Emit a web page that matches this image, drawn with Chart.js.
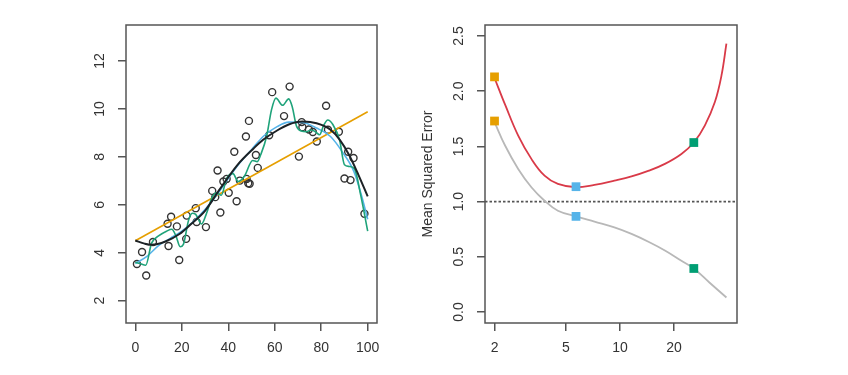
<!DOCTYPE html>
<html>
<head>
<meta charset="utf-8">
<script src="https://cdn.jsdelivr.net/npm/chart.js@4/dist/chart.umd.min.js"></script>
<style>
  body { margin: 0; background: #fff; }
  #wrap { position: relative; width: 848px; height: 375px; }
  canvas { position: absolute; top: 0; }
</style>
</head>
<body>
<div id="wrap">
  <canvas id="fitPlot" width="400" height="375" style="left:0"></canvas>
  <canvas id="msePlot" width="448" height="375" style="left:400px"></canvas>
</div>
<script>
// left panel: simulated observations
var obsX = [0.7, 2.9, 4.7, 7.6, 13.9, 15.4, 14.3, 17.9, 18.9, 22.1, 21.9, 26.0, 26.4, 30.4,
  33.1, 34.4, 35.4, 36.6, 37.9, 39.3, 40.2, 42.6, 43.6, 45.0, 47.6, 47.9, 48.9, 48.6, 49.2,
  51.9, 52.7, 57.6, 58.9, 64.0, 66.4, 70.4, 71.6, 71.9, 74.7, 76.4, 78.1, 82.1, 82.9, 87.6,
  90.0, 91.6, 92.6, 93.9, 98.6];
var obsY = [3.53, 4.03, 3.05, 4.45, 5.21, 5.5, 4.28, 5.10, 3.70, 5.55, 4.58, 5.86, 5.28, 5.07,
  6.58, 6.32, 7.43, 5.68, 6.97, 7.08, 6.5, 8.21, 6.15, 7.01, 8.85, 7.08, 9.50, 6.9, 6.88,
  8.08, 7.54, 8.90, 10.70, 9.70, 10.93, 8.01, 9.45, 9.24, 9.14, 9.04, 8.64, 10.13, 9.13, 9.05,
  7.10, 8.21, 7.03, 7.95, 5.63];

// true function (black)
var trueX = [0, 4, 7, 13, 19, 24, 30, 36, 44, 51, 55, 61, 66, 72, 78, 84, 88, 92, 96, 100];
var trueY = [4.51, 4.38, 4.33, 4.47, 4.78, 5.2, 5.75, 6.6, 7.67, 8.36, 8.71, 9.1, 9.35, 9.47,
  9.40, 9.13, 8.71, 8.08, 7.25, 6.35];

// linear fit (orange)
var linX = [0, 100];
var linY = [4.5, 9.88];

// smoothing spline, moderate flexibility (blue)
var blueX = [0, 5, 10, 15, 20, 25, 30, 35, 40, 45, 50, 55, 61, 66, 72, 78, 84, 89, 94, 97, 100];
var blueY = [3.55, 3.85, 4.3, 4.6, 4.9, 5.3, 5.8, 6.4, 7.1, 7.75, 8.3, 8.85, 9.26, 9.45, 9.43,
  9.2, 8.85, 8.22, 7.4, 6.5, 5.4];

// smoothing spline, high flexibility (green)
var greenX = [0, 2, 4.5, 7, 10, 13.5, 15.7, 17.5, 19.3, 20.7, 22.9, 24.5, 26, 28.5, 30.5, 33,
  35, 37, 39.3, 42, 44.3, 47, 50.5, 52.5, 54, 56.5, 58.6, 60.5, 63.4, 66, 67.5, 69.3, 71.4,
  73.6, 75.7, 77.5, 79.3, 81, 82.8, 85, 87.9, 90, 92, 94.3, 97.1, 100];
var greenY = [3.6, 3.55, 3.48, 4.4, 4.7, 4.9, 4.98, 4.7, 4.25, 4.35, 5.35, 5.65, 5.6, 5.2, 5.6,
  6.3, 6.5, 6.4, 7.1, 7.3, 6.97, 7.2, 7.85, 7.8, 8.1, 8.85, 9.96, 10.45, 10.15, 10.42, 10.1,
  9.3, 9.08, 9.05, 9.12, 9.05, 8.92, 9.3, 9.54, 9.35, 8.7, 7.67, 7.6, 7.5, 6.35, 4.9];

var leftXTicks = [0, 20, 40, 60, 80, 100];
var leftYTicks = [2, 4, 6, 8, 10, 12];

// right panel: MSE against flexibility
var testX = [2, 2.3, 2.71, 3.21, 3.8, 4.51, 5.69, 7.21, 9.31, 11.6, 14.5, 17.8, 22, 25.8, 29.7,
  33.8, 36.8, 39.2];
var testY = [2.12, 1.871, 1.598, 1.387, 1.235, 1.16, 1.13, 1.152, 1.19, 1.228, 1.28, 1.342,
  1.432, 1.535, 1.689, 1.902, 2.143, 2.431];
var trainX = [2, 2.29, 2.71, 3.21, 3.8, 4.51, 5.69, 7.21, 9.31, 11.6, 14.5, 17.8, 22, 25.8,
  31.5, 39.2];
var trainY = [1.72, 1.508, 1.296, 1.13, 1.008, 0.917, 0.866, 0.818, 0.766, 0.707, 0.634, 0.557,
  0.464, 0.394, 0.267, 0.131];
var markX = [2, 5.69, 25.8];
var markTest = [2.13, 1.135, 1.535];
var markTrain = [1.73, 0.866, 0.394];
var markColors = ["#E69F00", "#56B4E9", "#009E73"];
var irreducible = 1.0;

var rightXTicks = [2, 5, 10, 20];
var rightYTicks = [0, 0.5, 1, 1.5, 2, 2.5];

function pts(xs, ys) {
  return xs.map(function (x, i) { return { x: x, y: ys[i] }; });
}

var axisGray = "#555";
var tickFont = { family: "'Liberation Sans', Arial, sans-serif", size: 14 };

var boxPlugin = {
  id: "box",
  afterDraw: function (chart) {
    var a = chart.chartArea;
    var ctx = chart.ctx;
    ctx.save();
    ctx.strokeStyle = axisGray;
    ctx.lineWidth = 1.5;
    ctx.strokeRect(a.left, a.top, a.right - a.left, a.bottom - a.top);
    ctx.restore();
  }
};

function xAxis(type, min, max, tickVals, h) {
  return {
    type: type, min: min, max: max,
    afterBuildTicks: function (s) { s.ticks = tickVals.map(function (v) { return { value: v }; }); },
    afterFit: function (s) { s.height = h; },
    border: { display: false },
    grid: { drawOnChartArea: false, drawTicks: true, tickLength: 8, color: axisGray, lineWidth: 1.5 },
    ticks: { autoSkip: false, maxRotation: 0, color: "#333", font: tickFont, padding: 9,
      callback: function (v) { return String(v); } }
  };
}

function yAxis(min, max, tickVals, w, pad, fmt, title) {
  return {
    type: "linear", min: min, max: max,
    afterBuildTicks: function (s) { s.ticks = tickVals.map(function (v) { return { value: v }; }); },
    afterFit: function (s) { s.width = w; },
    border: { display: false },
    grid: { drawOnChartArea: false, drawTicks: true, tickLength: 8, color: axisGray, lineWidth: 1.5 },
    ticks: { autoSkip: false, minRotation: 90, maxRotation: 90, crossAlign: "center",
      color: "#333", font: tickFont, padding: pad, callback: fmt },
    title: title
  };
}

function lineSet(xs, ys, color, width, order, smooth) {
  var ds = {
    type: "line", data: pts(xs, ys), borderColor: color, borderWidth: width,
    pointRadius: 0, fill: false, order: order
  };
  if (smooth) ds.tension = 0.4; else ds.cubicInterpolationMode = "monotone";
  return ds;
}

new Chart(document.getElementById("fitPlot"), {
  data: {
    datasets: [
      lineSet(linX, linY, "#E69F00", 1.6, 4),
      lineSet(blueX, blueY, "#56B4E9", 1.6, 3),
      lineSet(greenX, greenY, "#1FA37A", 1.6, 2),
      lineSet(trueX, trueY, "#1c2226", 2, 1),
      {
        type: "scatter", data: pts(obsX, obsY), order: 5,
        pointRadius: 3.5, pointBorderWidth: 1.4, pointBorderColor: "#333",
        pointBackgroundColor: "rgba(0,0,0,0)"
      }
    ]
  },
  options: {
    responsive: false, animation: false,
    layout: { padding: { left: 0, right: 23, top: 25, bottom: 0 } },
    plugins: { legend: { display: false }, tooltip: { enabled: false } },
    scales: {
      x: xAxis("linear", -4, 104, leftXTicks, 52),
      y: yAxis(1.07, 13.5, leftYTicks, 126, 10, function (v) { return String(v); },
        { display: false })
    }
  },
  plugins: [boxPlugin]
});

new Chart(document.getElementById("msePlot"), {
  data: {
    datasets: [
      {
        type: "line", data: pts([1.77, 44.9], [irreducible, irreducible]), order: 5,
        borderColor: "#555", borderWidth: 1.7, borderDash: [2.5, 2], pointRadius: 0
      },
      lineSet(trainX, trainY, "#b8b8b8", 1.8, 4, true),
      lineSet(testX, testY, "#d93a48", 1.8, 3, true),
      {
        type: "scatter", data: pts(markX, markTest), order: 1, pointStyle: "rect",
        pointRadius: 6.2, pointBorderWidth: 0, pointBackgroundColor: markColors
      },
      {
        type: "scatter", data: pts(markX, markTrain), order: 1, pointStyle: "rect",
        pointRadius: 6.2, pointBorderWidth: 0, pointBackgroundColor: markColors
      }
    ]
  },
  options: {
    responsive: false, animation: false,
    layout: { padding: { left: 0, right: 111, top: 25, bottom: 0 } },
    plugins: { legend: { display: false }, tooltip: { enabled: false } },
    scales: {
      x: xAxis("logarithmic", 1.77, 44.9, rightXTicks, 52),
      y: yAxis(-0.1, 2.6, rightYTicks, 85, 8, function (v) { return v.toFixed(1); }, {
        display: true, text: "Mean Squared Error", color: "#333",
        font: { family: "'Liberation Sans', Arial, sans-serif", size: 14 },
        padding: { top: 20, bottom: 0 }
      })
    }
  },
  plugins: [boxPlugin]
});
</script>
</body>
</html>
